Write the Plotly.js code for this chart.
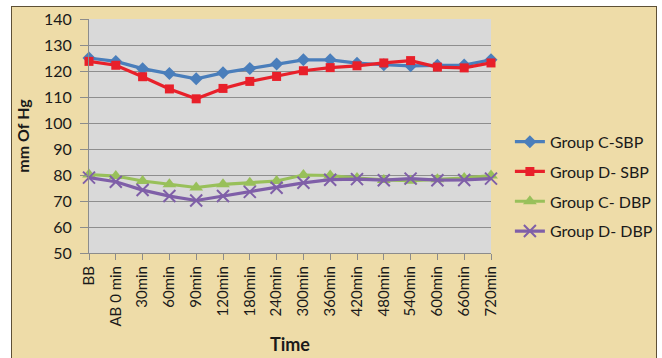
<!DOCTYPE html>
<html>
<head>
<meta charset="utf-8">
<script src="https://cdn.plot.ly/plotly-3.0.1.min.js"></script>
<style>
  html, body { margin: 0; padding: 0; background: #ffffff; width: 662px; height: 358px; overflow: hidden; }
  #frame { position: absolute; left: 11px; top: 6px; width: 644px; height: 352px; overflow: hidden;
           border-left: 1px solid #5e5036; border-top: 1px solid #5e5036; border-right: 1px solid #5e5036; }
  #chart { width: 700px; height: 352px; }
</style>
</head>
<body>
<div id="frame"><div id="chart"></div></div>
<script>
const categories = ["BB", "AB 0 min", "30min", "60min", "90min", "120min", "180min", "240min",
                    "300min", "360min", "420min", "480min", "540min", "600min", "660min", "720min"];
const groupC_SBP = [125, 123.7, 120.9, 119, 117, 119.3, 121, 122.7, 124.3, 124.3, 123, 122.4, 122, 122.2, 122.3, 124.3];
const groupD_SBP = [123.7, 122.2, 117.8, 113.1, 109.3, 113.3, 116, 117.9, 120.1, 121.3, 122, 123.1, 124, 121.5, 121.2, 123.1];
const groupC_DBP = [80.2, 79.6, 77.7, 76.4, 75.2, 76.4, 77, 77.7, 80, 79.8, 78.8, 78.1, 77.8, 78.4, 78.8, 79.8];
const groupD_DBP = [79, 77.4, 74.2, 71.9, 70.2, 71.9, 73.5, 75.1, 77, 78.2, 78.4, 78, 78.6, 78, 78.1, 78.6];
const seriesNames = ["Group C-SBP", "Group D- SBP", "Group C- DBP", "Group D- DBP"];

const font = "Lato, 'Open Sans', sans-serif";

const traces = [
  { x: categories, y: groupC_SBP, name: seriesNames[0], legendgroup: "a", mode: "lines+markers",
    line: { color: "#4a7ebb", width: 3.2 }, marker: { symbol: "diamond", size: 10, color: "#4a7ebb" }, cliponaxis: false },
  { x: categories, y: groupD_SBP, name: seriesNames[1], legendgroup: "b", mode: "lines+markers",
    line: { color: "#e8202a", width: 3.2 }, marker: { symbol: "square", size: 9, color: "#e8202a" }, cliponaxis: false },
  { x: categories, y: groupC_DBP, name: seriesNames[2], legendgroup: "c", mode: "lines+markers",
    line: { color: "#98c05a", width: 3.2 }, marker: { symbol: "triangle-up", size: 12, color: "#98c05a" }, cliponaxis: false },
  { x: categories, y: groupD_DBP, name: seriesNames[3], legendgroup: "d", mode: "lines+markers",
    line: { color: "#7f5fa8", width: 3.2 }, marker: { symbol: "x-thin-open", size: 12, color: "#7f5fa8", line: { color: "#7f5fa8", width: 2 } }, cliponaxis: false }
];

const layout = {
  width: 700, height: 352,
  margin: { l: 77, r: 221, t: 12, b: 106 },
  paper_bgcolor: "#eedca8",
  plot_bgcolor: "#d9d9d9",
  font: { family: font, color: "#1a1a1a", size: 15 },
  showlegend: true,
  legend: { x: 1.047, xanchor: "left", y: 0.548, yanchor: "top", bgcolor: "rgba(0,0,0,0)",
            font: { family: font, size: 16, color: "#1a1a1a" }, traceorder: "grouped", tracegroupgap: 6 },
  xaxis: {
    type: "category", range: [0, 15], tickangle: -90, showgrid: false,
    showline: true, linecolor: "#8c8c8c", linewidth: 1,
    ticks: "outside", ticklen: 6, tickcolor: "#8c8c8c",
    tickfont: { family: font, size: 15, color: "#1a1a1a" },
    title: { text: "Time", font: { family: font, size: 18, color: "#1a1a1a", weight: "bold" }, standoff: 12 },
    automargin: false
  },
  yaxis: {
    range: [50, 140], dtick: 10, tick0: 50,
    showgrid: true, gridcolor: "#8e8e8e", gridwidth: 1, zeroline: false,
    showline: true, linecolor: "#8c8c8c", linewidth: 1,
    ticks: "outside", ticklen: 8, tickcolor: "#8c8c8c", ticklabelstandoff: 5,
    tickfont: { family: font, size: 16, color: "#1a1a1a" },
    title: { text: "mm Of Hg", font: { family: font, size: 16, color: "#1a1a1a", weight: "bold" }, standoff: 10 },
    automargin: false
  }
};

Plotly.newPlot("chart", traces, layout, { displayModeBar: false, staticPlot: true });
</script>
</body>
</html>
